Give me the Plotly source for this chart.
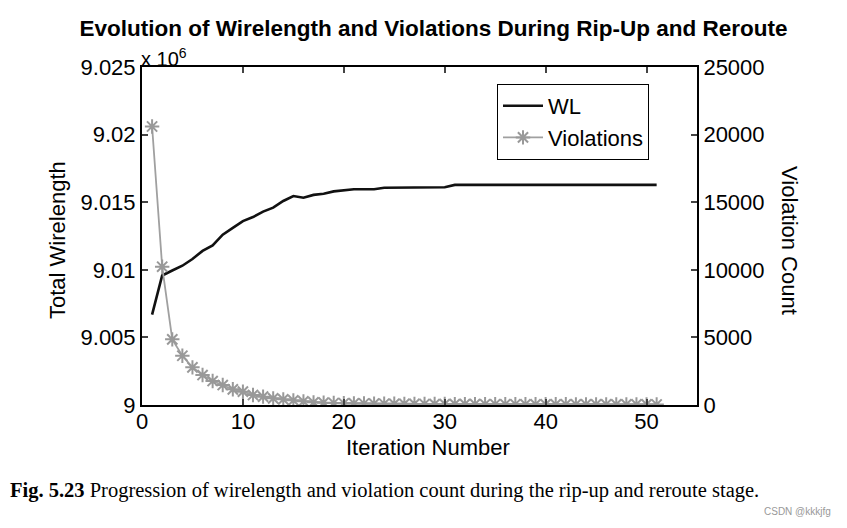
import plotly.graph_objects as go

iterations = list(range(1, 52))

# Total wirelength, in units of 10^6
wirelength = [
    9.00668, 9.00958, 9.00995, 9.01030, 9.01080, 9.01140, 9.01180, 9.01260, 9.01310, 9.01360,
    9.01390, 9.01430, 9.01460, 9.01509, 9.01546, 9.01533, 9.01554, 9.01563, 9.01580, 9.01590,
    9.01596, 9.01596, 9.01596, 9.01607, 9.01607, 9.01611, 9.01611, 9.01611, 9.01611, 9.01611,
    9.01628, 9.01628, 9.01628, 9.01628, 9.01628, 9.01628, 9.01628, 9.01628, 9.01628, 9.01628,
    9.01628, 9.01628, 9.01628, 9.01628, 9.01628, 9.01628, 9.01628, 9.01628, 9.01628, 9.01628,
    9.01628,
]

violations = [
    20600, 10230, 4855, 3643, 2786, 2217, 1773, 1478, 1160, 985,
    739, 616, 493, 419, 345, 271, 197, 172, 148, 130,
    120, 110, 100, 95, 90, 85, 80, 76, 72, 70,
    68, 65, 62, 60, 58, 56, 55, 54, 53, 52,
    51, 50, 49, 48, 47, 46, 45, 44, 43, 42,
    41,
]

wl_ticks = [9.0, 9.005, 9.01, 9.015, 9.02, 9.025]
wl_ticklabels = ["9", "9.005", "9.01", "9.015", "9.02", "9.025"]
viol_ticks = [0, 5000, 10000, 15000, 20000, 25000]
viol_ticklabels = ["0", "5000", "10000", "15000", "20000", "25000"]
x_ticks = [0, 10, 20, 30, 40, 50]

FONT = "Liberation Sans, Arial, sans-serif"

# page body has an 8px margin: figure is sized/placed to compensate
W, H = 839, 520
L, T, PW, PH = 134, 59, 555, 338


def px(x):
    return (x - 8 - L) / PW


def py(y):
    return (T + PH - (y - 8)) / PH


fig = go.Figure()
fig.add_trace(go.Scatter(
    x=iterations, y=wirelength, name="WL", mode="lines",
    line=dict(color="#111111", width=2.6), yaxis="y",
))
fig.add_trace(go.Scatter(
    x=iterations, y=violations, name="Violations", mode="lines+markers",
    line=dict(color="#a0a0a0", width=1.8),
    marker=dict(symbol="asterisk-open", size=12, color="#999999",
                line=dict(color="#999999", width=2)),
    yaxis="y2",
))

axis_common = dict(
    ticks="inside", ticklen=6, tickwidth=1.5,
    showline=True, linecolor="black", linewidth=2,
    showgrid=False, zeroline=False, tickfont=dict(size=22), automargin=False,
)

fig.update_layout(
    width=W, height=H,
    margin=dict(l=L, r=W - L - PW, t=T, b=H - T - PH, pad=0),
    paper_bgcolor="white", plot_bgcolor="white",
    font=dict(family=FONT, size=22, color="black"),
    showlegend=True,
    title=dict(
        text="<b>Evolution of Wirelength and Violations During Rip-Up and Reroute</b>",
        x=(433.5 - 8) / W, xanchor="center", y=1 - (28 - 8) / H, yanchor="middle",
        font=dict(family=FONT, size=22.5, color="black"),
    ),
    xaxis=dict(range=[0, 55], tickvals=x_ticks, mirror="ticks", ticklabelstandoff=-4, **axis_common),
    yaxis=dict(range=[9.0, 9.025], tickvals=wl_ticks, ticktext=wl_ticklabels, **axis_common),
    yaxis2=dict(range=[0, 25000], tickvals=viol_ticks, ticktext=viol_ticklabels,
                overlaying="y", side="right", **axis_common),
    legend=dict(
        x=px(497), y=py(84), xanchor="left", yanchor="top",
        bordercolor="black", borderwidth=1, bgcolor="white",
        font=dict(size=22), tracegroupgap=0, itemwidth=40,
    ),
    annotations=[
        dict(text="Iteration Number", xref="paper", yref="paper",
             x=px(428), y=py(447), xanchor="center", yanchor="middle",
             showarrow=False, font=dict(size=22)),
        dict(text="Total Wirelength", xref="paper", yref="paper",
             x=px(57), y=py(240), xanchor="center", yanchor="middle",
             textangle=-90, showarrow=False, font=dict(size=22)),
        dict(text="Violation Count", xref="paper", yref="paper",
             x=px(790), y=py(240), xanchor="center", yanchor="middle",
             textangle=90, showarrow=False, font=dict(size=22)),
        dict(text="x 10<sup>6</sup>", xref="paper", yref="paper",
             x=px(139), y=py(72), xanchor="left", yanchor="bottom",
             showarrow=False, font=dict(size=20)),
        dict(text="<b>Fig. 5.23</b> Progression of wirelength and violation count during the rip-up and reroute stage.",
             xref="paper", yref="paper",
             x=px(8), y=py(490), xanchor="left", yanchor="middle",
             showarrow=False, font=dict(family="Liberation Serif, Times New Roman, serif", size=20.5)),
        dict(text="CSDN @kkkjfg", xref="paper", yref="paper",
             x=px(833), y=py(511), xanchor="right", yanchor="middle",
             showarrow=False, font=dict(family="Liberation Sans Narrow, Liberation Sans, sans-serif",
                                        size=10, color="#999999")),
    ],
)

fig.write_html("out.html")
